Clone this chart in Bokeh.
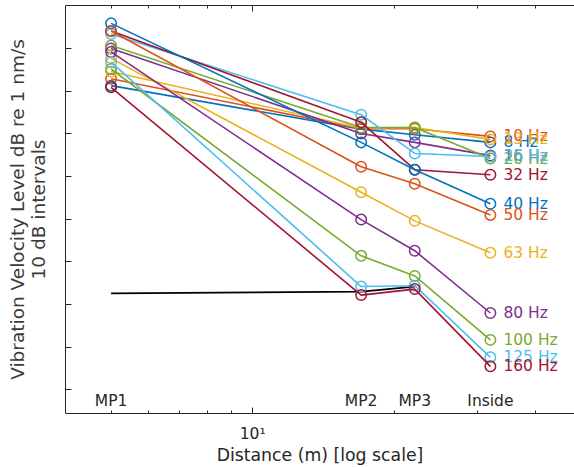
from bokeh.plotting import figure
from bokeh.models import Range1d, FixedTicker, LogAxis
from bokeh.embed import file_html
from bokeh.resources import INLINE
from bokeh.core.properties import value

# ---- data ----
locations = ["MP1", "MP2", "MP3", "Inside"]
distances = [5.0, 17.0, 22.1, 32.0]          # metres (log axis)

freq_labels = ["8 Hz", "10 Hz", "13 Hz", "16 Hz", "20 Hz", "25 Hz", "32 Hz",
               "40 Hz", "50 Hz", "63 Hz", "80 Hz", "100 Hz", "125 Hz", "160 Hz"]

lv_8 = [111.3, 101.1, 99.8, 98.0]
lv_10 = [112.9, 101.2, 101.2, 99.4]
lv_13 = [114.6, 101.3, 101.5, 98.7]
lv_16 = [120.0, 100.1, 98.0, 94.9]
lv_20 = [120.7, 101.5, 101.5, 94.2]
lv_25 = [123.4, 104.5, 95.4, 94.7]
lv_32 = [124.1, 102.7, 91.6, 90.4]
lv_40 = [125.9, 98.0, 91.6, 83.6]
lv_50 = [124.1, 92.3, 88.3, 81.0]
lv_63 = [117.7, 86.3, 79.6, 72.1]
lv_80 = [119.2, 79.9, 72.6, 58.0]
lv_100 = [115.2, 71.4, 66.7, 51.7]
lv_125 = [116.8, 64.2, 64.4, 47.6]
lv_160 = [110.9, 62.2, 63.6, 45.5]

ref_levels = [62.6, 63.0, 64.2]   # black line MP1..MP3

y_ticks = [40, 50, 60, 70, 80, 90, 100, 110, 120]
x_major = [10]
x_minor = [5, 6, 7, 8, 9, 20, 30, 40]

series = [lv_8, lv_10, lv_13, lv_16, lv_20, lv_25, lv_32,
          lv_40, lv_50, lv_63, lv_80, lv_100, lv_125, lv_160]

palette = ["#0072BD", "#D95319", "#EDB120", "#7E2F8E", "#77AC30", "#4DBEEE", "#A2142F"]
colors = [palette[i % 7] for i in range(len(series))]

FONT = "DejaVu Sans"
AX = "#262626"
loc_label_y = 37.4

p = figure(width=574, height=467, x_axis_type="log",
           x_range=Range1d(4, 48.3), y_range=Range1d(34.44, 130.09),
           output_backend="svg", toolbar_location=None,
           min_border_left=65, min_border_right=0, min_border_top=5,
           min_border_bottom=54)
p.outline_line_color = None
p.grid.visible = False
p.background_fill_color = "white"

top = LogAxis()
p.add_layout(top, "above")

for ax in [p.below[0], top]:
    ax.ticker = FixedTicker(ticks=x_major, minor_ticks=x_minor)
for ax in [p.below[0], top, p.left[0]]:
    ax.axis_line_color = AX
    ax.axis_line_width = 1
    ax.major_tick_line_color = AX
    ax.minor_tick_line_color = AX
    ax.major_tick_in = 6
    ax.major_tick_out = 0
    ax.minor_tick_in = 3
    ax.minor_tick_out = 0
    ax.major_label_text_font = FONT
    ax.major_label_text_color = AX
    ax.axis_label_text_font = FONT
    ax.axis_label_text_font_style = "normal"
    ax.axis_label_text_color = AX

top.major_label_text_font_size = "1px"
top.major_label_text_alpha = 0
top.major_label_standoff = 0

bx = p.below[0]
bx.major_label_overrides = {10: "10\u00b9"}
bx.major_label_text_font_size = "15.5px"
bx.major_label_standoff = 11
bx.axis_label = "Distance (m) [log scale]"
bx.axis_label_text_font_size = "17.3px"
bx.axis_label_standoff = -1

ly = p.left[0]
ly.ticker = FixedTicker(ticks=y_ticks, minor_ticks=[])
ly.major_label_text_font_size = "1px"
ly.major_label_text_alpha = 0
ly.major_label_standoff = 0
ly.axis_label = "Vibration Velocity Level dB re 1 nm/s\n10 dB intervals"
ly.axis_label_text_font_size = "18.5px"
ly.axis_label_text_line_height = 1.0
ly.axis_label_text_color = "#3a3a3a"
ly.axis_label_standoff = 17

# black reference line
p.line(distances[:3], ref_levels, line_color="black", line_width=1.8)

for vals, col in zip(series, colors):
    p.line(distances, vals, line_color=col, line_width=1.6)
    p.scatter(distances, vals, marker="circle", size=10.5, fill_color=None,
              line_color=col, line_width=1.5)

# frequency labels at the Inside point
p.text(x=[distances[-1]] * len(series), y=[s[-1] for s in series], text=freq_labels,
       x_offset=13, text_baseline="middle", text_align="left",
       text_font=value(FONT), text_font_size="15.5px", text_color=colors)

# location labels
p.text(x=distances, y=[loc_label_y] * len(distances), text=locations,
       text_baseline="middle", text_align="center",
       text_font=value(FONT), text_font_size="15.5px", text_color=AX)

open("out.html", "w").write(file_html(p, INLINE))
